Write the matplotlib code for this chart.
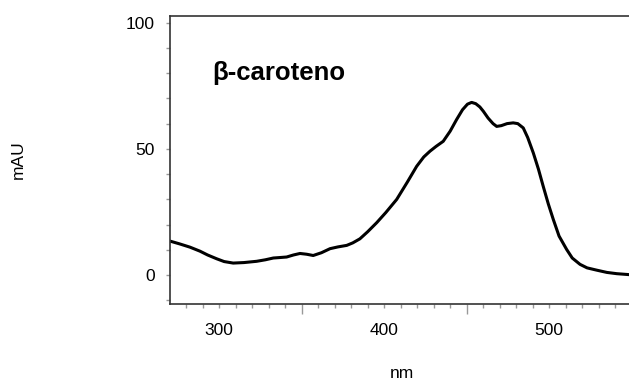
import matplotlib
matplotlib.use("Agg")
import matplotlib.pyplot as plt
from matplotlib.ticker import MultipleLocator, FixedLocator

plt.rcParams['font.family'] = ['Liberation Sans', 'DejaVu Sans']

# Spectrum
wavelength_nm = [270.2, 276, 282.3, 288.4, 293, 298.5, 303, 308.5, 315, 322.7, 328, 332.8,
                 337, 340.9, 345, 349, 353, 357, 362, 367.2, 372, 377.3, 381, 385.3,
                 390, 395.5, 401, 407.6, 414, 419.7, 424, 427.8, 431.5, 435.8, 440,
                 443.9, 447.5, 450.5, 453, 455.5, 458, 460.1, 463, 466, 468.2, 471,
                 474.5, 478.2, 481, 484.3, 487, 490.4, 493.5, 496.4, 499.5, 502.5,
                 506, 510.6, 514, 518.7, 523, 528.8, 535, 541, 549]
absorbance_mau = [13.5, 12.4, 11.1, 9.5, 8.0, 6.5, 5.4, 4.8, 5.0, 5.5, 6.1, 6.8,
                  7.0, 7.2, 8.0, 8.6, 8.3, 7.8, 8.9, 10.5, 11.2, 11.8, 12.8, 14.4,
                  17.2, 20.8, 24.8, 30.0, 36.8, 43.1, 46.8, 49.1, 51.0, 53.0, 57.0,
                  61.6, 65.5, 67.7, 68.4, 67.9, 66.6, 64.9, 62.2, 60.0, 58.9, 59.2,
                  60.0, 60.3, 60.0, 58.3, 54.5, 48.4, 42.0, 35.2, 28.2, 22.1,
                  15.5, 10.2, 6.8, 4.3, 2.9, 2.0, 1.1, 0.6, 0.2]

x_tick_values = [300, 350, 400, 450, 500]
x_tick_labels = ['300', '', '400', '', '500']
y_tick_values = [0, 50, 100]
y_tick_labels = ['0', '50', '100']
title_text = 'β-caroteno'
x_label = 'nm'
y_label = 'mAU'

fig = plt.figure(figsize=(6.29, 3.85), dpi=100)
ax = fig.add_axes([170/629, (385-304)/385, 459/629, 288/385])

ax.plot(wavelength_nm, absorbance_mau, color='black', lw=2.2, solid_capstyle='round',
        solid_joinstyle='round', antialiased=True)

ax.set_xlim(270.2, 548.4)
ax.set_ylim(-11.4, 102.6)

ax.spines['right'].set_visible(False)
for s in ['left', 'bottom', 'top']:
    ax.spines[s].set_color('#333333')
    ax.spines[s].set_linewidth(1.2)

ax.xaxis.set_major_locator(FixedLocator(x_tick_values))
ax.set_xticklabels(x_tick_labels)
ax.xaxis.set_minor_locator(MultipleLocator(10))
ax.yaxis.set_major_locator(FixedLocator(y_tick_values))
ax.set_yticklabels(y_tick_labels)
ax.yaxis.set_minor_locator(MultipleLocator(10))

ax.tick_params(axis='x', which='major', direction='out', length=3, width=1, color='#999999',
               labelsize=12.5, pad=11, labelcolor='black')
ax.tick_params(axis='x', which='minor', direction='out', length=3, width=1, color='#999999')
ax.tick_params(axis='y', which='major', direction='out', length=3, width=1, color='#999999',
               labelsize=12.5, pad=8, labelcolor='black')
ax.tick_params(axis='y', which='minor', direction='out', length=3, width=1, color='#999999')

ax.text(0.093, 0.778, title_text, transform=ax.transAxes, fontsize=18.5,
        fontweight='bold', ha='left', va='baseline')

fig.text(18/629, 1-160/385, y_label, rotation=90, ha='center', va='center', fontsize=12.5)
fig.text(402/629, 1-373/385, x_label, ha='center', va='center', fontsize=12.5)

fig.canvas.draw()
for val, t in zip(x_tick_values, ax.xaxis.get_major_ticks()):
    if val in (350, 450):
        t.tick1line.set_markersize(7)
        t.label1.set_text('')

fig.savefig('out.png', dpi=100)
